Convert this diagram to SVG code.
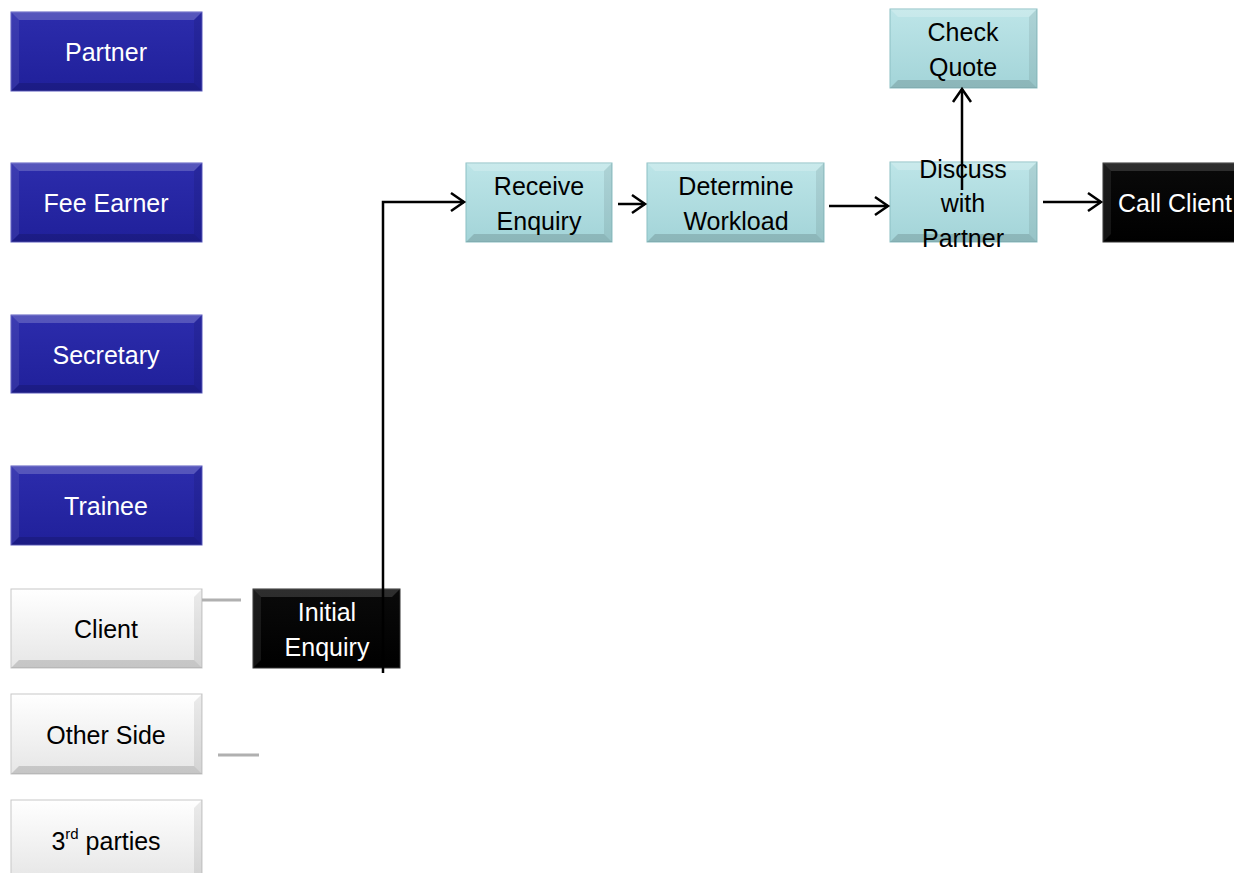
<svg xmlns="http://www.w3.org/2000/svg" width="1234" height="873" viewBox="0 0 1234 873">
<style>
.t{font-family:"Liberation Sans",Arial,sans-serif;font-size:25px;text-anchor:middle;dominant-baseline:central}
.tw{fill:#ffffff}
.tb{fill:#000000}
.hi{fill:#ffffff;opacity:0.2}
.sh{fill:#000000;opacity:0.14}
.sl{fill:#ffffff;opacity:0.08}
.sr{fill:#000000;opacity:0.08}
.con{fill:none;stroke:#000;stroke-width:2.5}
.gray{fill:none;stroke:#b0b0b0;stroke-width:3}
</style>
<defs>
<linearGradient id="gBlue" x1="0" y1="0" x2="0" y2="1"><stop offset="0" stop-color="#2c2cac"/><stop offset="1" stop-color="#20209a"/></linearGradient>
<linearGradient id="gWhite" x1="0" y1="0" x2="0" y2="1"><stop offset="0" stop-color="#ffffff"/><stop offset="1" stop-color="#e6e6e6"/></linearGradient>
<linearGradient id="gCyan" x1="0" y1="0" x2="0" y2="1"><stop offset="0" stop-color="#bde5e8"/><stop offset="1" stop-color="#a3d4d8"/></linearGradient>
<linearGradient id="gBlack" x1="0" y1="0" x2="0" y2="1"><stop offset="0" stop-color="#0a0a0a"/><stop offset="1" stop-color="#000000"/></linearGradient>
<marker id="arr" markerUnits="userSpaceOnUse" markerWidth="26" markerHeight="26" refX="21" refY="13" orient="auto">
<path d="M8,4 L21,13 L8,22" fill="none" stroke="#000" stroke-width="2.5"/>
</marker>
</defs>

<g id="partner">
<rect x="11" y="12" width="191" height="79" fill="url(#gBlue)" stroke="#5a5ac0" stroke-width="1"/>
<polygon class="hi" points="11,12 202,12 194,20 19,20"/>
<polygon class="sh" points="11,91 202,91 194,83 19,83"/>
<polygon class="sl" points="11,12 19,20 19,83 11,91"/>
<polygon class="sr" points="202,12 194,20 194,83 202,91"/>
<text class="t tw" x="106" y="52">Partner</text>
</g>
<g id="fee-earner">
<rect x="11" y="163" width="191" height="79" fill="url(#gBlue)" stroke="#5a5ac0" stroke-width="1"/>
<polygon class="hi" points="11,163 202,163 194,171 19,171"/>
<polygon class="sh" points="11,242 202,242 194,234 19,234"/>
<polygon class="sl" points="11,163 19,171 19,234 11,242"/>
<polygon class="sr" points="202,163 194,171 194,234 202,242"/>
<text class="t tw" x="106" y="203">Fee Earner</text>
</g>
<g id="secretary">
<rect x="11" y="315" width="191" height="78" fill="url(#gBlue)" stroke="#5a5ac0" stroke-width="1"/>
<polygon class="hi" points="11,315 202,315 194,323 19,323"/>
<polygon class="sh" points="11,393 202,393 194,385 19,385"/>
<polygon class="sl" points="11,315 19,323 19,385 11,393"/>
<polygon class="sr" points="202,315 194,323 194,385 202,393"/>
<text class="t tw" x="106" y="355">Secretary</text>
</g>
<g id="trainee">
<rect x="11" y="466" width="191" height="79" fill="url(#gBlue)" stroke="#5a5ac0" stroke-width="1"/>
<polygon class="hi" points="11,466 202,466 194,474 19,474"/>
<polygon class="sh" points="11,545 202,545 194,537 19,537"/>
<polygon class="sl" points="11,466 19,474 19,537 11,545"/>
<polygon class="sr" points="202,466 194,474 194,537 202,545"/>
<text class="t tw" x="106" y="506">Trainee</text>
</g>
<g id="client">
<rect x="11" y="589" width="191" height="79" fill="url(#gWhite)" stroke="#c8c8c8" stroke-width="1"/>
<polygon class="sh" points="11,668 202,668 194,660 19,660"/>
<polygon class="sr" points="202,589 194,597 194,660 202,668"/>
<text class="t tb" x="106" y="629">Client</text>
</g>
<g id="other-side">
<rect x="11" y="694" width="191" height="80" fill="url(#gWhite)" stroke="#c8c8c8" stroke-width="1"/>
<polygon class="sh" points="11,774 202,774 194,766 19,766"/>
<polygon class="sr" points="202,694 194,702 194,766 202,774"/>
<text class="t tb" x="106" y="735">Other Side</text>
</g>
<g id="third-parties">
<rect x="11" y="800" width="191" height="80" fill="url(#gWhite)" stroke="#c8c8c8" stroke-width="1"/>
<polygon class="sr" points="202,800 194,808 194,880 202,888"/>
<text class="t tb" x="106" y="841">3<tspan font-size="15" dy="-8">rd</tspan><tspan dy="8"> parties</tspan></text>
</g>

<g id="initial-enquiry">
<rect x="253" y="589" width="147" height="79" fill="url(#gBlack)" stroke="#333" stroke-width="1"/>
<polygon points="253,589 400,589 392,597 261,597" fill="#ffffff" opacity="0.15"/>
<polygon points="253,589 261,597 261,660 253,668" fill="#ffffff" opacity="0.08"/>
<text class="t tw" x="327" y="612">Initial</text>
<text class="t tw" x="327" y="647">Enquiry</text>
</g>
<g id="receive-enquiry">
<rect x="466" y="163" width="146" height="79" fill="url(#gCyan)" stroke="#8cc0c4" stroke-width="1"/>
<polygon class="hi" points="466,163 612,163 604,171 474,171"/>
<polygon class="sh" points="466,242 612,242 604,234 474,234"/>
<polygon class="sr" points="612,163 604,171 604,234 612,242"/>
<text class="t tb" x="539" y="186">Receive</text>
<text class="t tb" x="539" y="221">Enquiry</text>
</g>
<g id="determine-workload">
<rect x="647" y="163" width="177" height="79" fill="url(#gCyan)" stroke="#8cc0c4" stroke-width="1"/>
<polygon class="hi" points="647,163 824,163 816,171 655,171"/>
<polygon class="sh" points="647,242 824,242 816,234 655,234"/>
<polygon class="sr" points="824,163 816,171 816,234 824,242"/>
<text class="t tb" x="736" y="186">Determine</text>
<text class="t tb" x="736" y="221">Workload</text>
</g>
<g id="discuss-with-partner">
<rect x="890" y="162" width="147" height="80" fill="url(#gCyan)" stroke="#8cc0c4" stroke-width="1"/>
<polygon class="hi" points="890,162 1037,162 1029,170 898,170"/>
<polygon class="sh" points="890,242 1037,242 1029,234 898,234"/>
<polygon class="sr" points="1037,162 1029,170 1029,234 1037,242"/>
<text class="t tb" x="963" y="169">Discuss</text>
<text class="t tb" x="963" y="203">with</text>
<text class="t tb" x="963" y="238">Partner</text>
</g>
<g id="check-quote">
<rect x="890" y="9" width="147" height="79" fill="url(#gCyan)" stroke="#8cc0c4" stroke-width="1"/>
<polygon class="hi" points="890,9 1037,9 1029,17 898,17"/>
<polygon class="sh" points="890,88 1037,88 1029,80 898,80"/>
<polygon class="sr" points="1037,9 1029,17 1029,80 1037,88"/>
<text class="t tb" x="963" y="32">Check</text>
<text class="t tb" x="963" y="67">Quote</text>
</g>
<g id="call-client">
<rect x="1103" y="163" width="140" height="79" fill="url(#gBlack)" stroke="#333" stroke-width="1"/>
<polygon points="1103,163 1243,163 1235,171 1111,171" fill="#ffffff" opacity="0.15"/>
<polygon points="1103,163 1111,171 1111,234 1103,242" fill="#ffffff" opacity="0.08"/>
<text class="t tw" x="1175" y="203">Call Client</text>
</g>

<g id="connectors">
<line class="gray" x1="202" y1="600" x2="241" y2="600"/>
<line class="gray" x1="218" y1="755" x2="259" y2="755"/>
<polyline class="con" points="383,673 383,202 464,202" marker-end="url(#arr)"/>
<line class="con" x1="618" y1="204" x2="645" y2="204" marker-end="url(#arr)"/>
<line class="con" x1="829" y1="206" x2="888" y2="206" marker-end="url(#arr)"/>
<line class="con" x1="962" y1="190" x2="962" y2="89" marker-end="url(#arr)"/>
<line class="con" x1="1043" y1="202" x2="1101" y2="202" marker-end="url(#arr)"/>
</g>
</svg>
